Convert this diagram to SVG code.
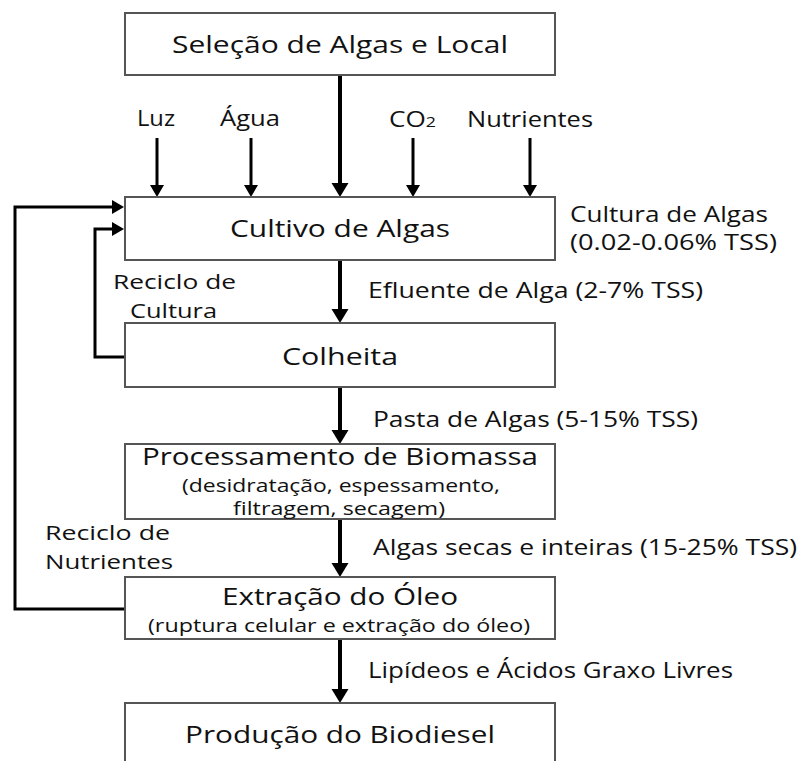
<svg xmlns="http://www.w3.org/2000/svg" width="801" height="761" viewBox="0 0 801 761">
<style>
  .box { fill: #ffffff; stroke: #555555; stroke-width: 2; }
  .t { font-family: "Open Sans", "Liberation Sans", sans-serif; fill: #111111; }
  .title { font-size: 23px; text-anchor: middle; }
  .sub { font-size: 18px; text-anchor: middle; }
  .lbl { font-size: 22px; }
  .lbl2 { font-size: 20px; }
  .main { stroke: #000; stroke-width: 4; fill: none; }
  .thin { stroke: #000; stroke-width: 3; fill: none; }
</style>
<defs>
  <marker id="ahBig" markerUnits="userSpaceOnUse" markerWidth="18" markerHeight="18" refX="4" refY="8.5" orient="auto">
    <path d="M0,0 L14,8.5 L0,17 Z" fill="#000"/>
  </marker>
  <marker id="ahSmall" markerUnits="userSpaceOnUse" markerWidth="16" markerHeight="16" refX="4" refY="7" orient="auto">
    <path d="M0,0 L12,7 L0,14 Z" fill="#000"/>
  </marker>
</defs>
<rect width="801" height="761" fill="#ffffff"/>

<g id="connectors">
  <line class="main" x1="340" y1="75" x2="340" y2="187" marker-end="url(#ahBig)"/>
  <line class="thin" x1="157" y1="138" x2="157" y2="189" marker-end="url(#ahSmall)"/>
  <line class="thin" x1="251" y1="138" x2="251" y2="189" marker-end="url(#ahSmall)"/>
  <line class="thin" x1="413" y1="138" x2="413" y2="189" marker-end="url(#ahSmall)"/>
  <line class="thin" x1="530" y1="138" x2="530" y2="189" marker-end="url(#ahSmall)"/>
  <line class="main" x1="340" y1="260" x2="340" y2="313" marker-end="url(#ahBig)"/>
  <line class="main" x1="340" y1="387" x2="340" y2="434" marker-end="url(#ahBig)"/>
  <line class="main" x1="340" y1="519" x2="340" y2="567" marker-end="url(#ahBig)"/>
  <line class="main" x1="340" y1="639" x2="340" y2="693" marker-end="url(#ahBig)"/>
  <path class="thin" d="M125,609 L15,609 L15,207 L116,207" marker-end="url(#ahSmall)"/>
  <path class="thin" d="M125,357 L95,357 L95,229 L116,229" marker-end="url(#ahSmall)"/>
</g>

<g id="selecao">
  <rect class="box" x="125" y="13" width="430" height="62"/>
  <text class="t title" x="340" y="53" font-size="24" textLength="336" lengthAdjust="spacingAndGlyphs">Seleção de Algas e Local</text>
</g>
<g id="cultivo">
  <rect class="box" x="125" y="197" width="430" height="63"/>
  <text class="t title" x="340" y="237" font-size="24" textLength="220" lengthAdjust="spacingAndGlyphs">Cultivo de Algas</text>
</g>
<g id="colheita">
  <rect class="box" x="125" y="323" width="430" height="64"/>
  <text class="t title" x="340" y="365" textLength="116" lengthAdjust="spacingAndGlyphs">Colheita</text>
</g>
<g id="processamento">
  <rect class="box" x="125" y="444" width="430" height="75"/>
  <text class="t title" x="340" y="465" font-size="22" textLength="396" lengthAdjust="spacingAndGlyphs">Processamento de Biomassa</text>
  <text class="t sub" x="341" y="492" textLength="318" lengthAdjust="spacingAndGlyphs">(desidratação, espessamento,</text>
  <text class="t sub" x="339" y="515" textLength="212" lengthAdjust="spacingAndGlyphs">filtragem, secagem)</text>
</g>
<g id="extracao">
  <rect class="box" x="125" y="577" width="430" height="62"/>
  <text class="t title" x="340" y="605" font-size="22" textLength="236" lengthAdjust="spacingAndGlyphs">Extração do Óleo</text>
  <text class="t sub" x="339" y="632" textLength="382" lengthAdjust="spacingAndGlyphs">(ruptura celular e extração do óleo)</text>
</g>
<g id="producao">
  <rect class="box" x="125" y="703" width="430" height="90"/>
  <text class="t title" x="340" y="743" textLength="310" lengthAdjust="spacingAndGlyphs">Produção do Biodiesel</text>
</g>

<g id="labels">
  <text class="t lbl" x="137" y="126" textLength="38" lengthAdjust="spacingAndGlyphs">Luz</text>
  <text class="t lbl" x="220" y="126" textLength="60" lengthAdjust="spacingAndGlyphs">Água</text>
  <text class="t lbl" x="389" y="127" textLength="47" lengthAdjust="spacingAndGlyphs">CO<tspan font-size="15">2</tspan></text>
  <text class="t lbl" x="467" y="127" textLength="126" lengthAdjust="spacingAndGlyphs">Nutrientes</text>
  <text class="t lbl" x="570" y="222" textLength="198" lengthAdjust="spacingAndGlyphs">Cultura de Algas</text>
  <text class="t lbl" x="570" y="250" textLength="207" lengthAdjust="spacingAndGlyphs">(0.02-0.06% TSS)</text>
  <text class="t lbl" x="368" y="298" textLength="335" lengthAdjust="spacingAndGlyphs">Efluente de Alga (2-7% TSS)</text>
  <text class="t lbl" x="373" y="427" textLength="325" lengthAdjust="spacingAndGlyphs">Pasta de Algas (5-15% TSS)</text>
  <text class="t lbl" x="373" y="555" textLength="424" lengthAdjust="spacingAndGlyphs">Algas secas e inteiras (15-25% TSS)</text>
  <text class="t lbl" x="368" y="678" textLength="365" lengthAdjust="spacingAndGlyphs">Lipídeos e Ácidos Graxo Livres</text>
  <text class="t lbl2" x="113" y="289" textLength="123" lengthAdjust="spacingAndGlyphs">Reciclo de</text>
  <text class="t lbl2" x="130" y="318" textLength="87" lengthAdjust="spacingAndGlyphs">Cultura</text>
  <text class="t lbl2" x="45" y="540" textLength="125" lengthAdjust="spacingAndGlyphs">Reciclo de</text>
  <text class="t lbl2" x="45" y="569" textLength="128" lengthAdjust="spacingAndGlyphs">Nutrientes</text>
</g>
</svg>
